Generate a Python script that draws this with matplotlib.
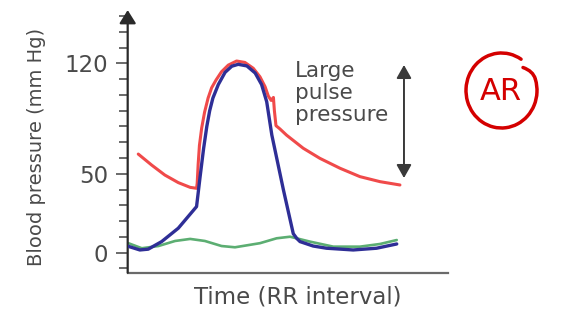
import matplotlib
matplotlib.use("Agg")
import matplotlib.pyplot as plt
from matplotlib.patches import Arc, PathPatch
from matplotlib.path import Path
from matplotlib.ticker import FixedLocator, MultipleLocator

plt.rcParams["font.family"] = ["DejaVu Sans"]

# Time axis: fraction of the RR interval (0 = start of the cycle)
aortic_t = [0.033, 0.075, 0.116, 0.158, 0.195, 0.215, 0.217, 0.220, 0.224, 0.231,
            0.240, 0.251, 0.262, 0.276, 0.293, 0.314, 0.340, 0.366, 0.392, 0.413,
            0.429, 0.439, 0.448, 0.455, 0.458, 0.463, 0.475, 0.496, 0.548, 0.600,
            0.663, 0.725, 0.788, 0.850]
aortic_p = [62.5, 55.5, 49.2, 44.4, 41.4, 40.8, 44.0, 56.0, 68.0, 79.0,
            89.0, 98.0, 104.5, 109.5, 114.7, 118.9, 121.5, 120.6, 116.9, 111.5,
            105.2, 99.3, 96.5, 98.4, 90.0, 80.5, 78.5, 74.5, 66.2, 59.8,
            53.5, 48.2, 45.0, 42.9]

lv_t = [0.002, 0.038, 0.064, 0.106, 0.158, 0.215, 0.226, 0.237, 0.247, 0.256,
        0.266, 0.283, 0.304, 0.325, 0.345, 0.372, 0.398, 0.418, 0.434, 0.450,
        0.486, 0.517, 0.528, 0.538, 0.579, 0.621, 0.704, 0.777, 0.840]
lv_p = [4.0, 1.7, 2.2, 7.0, 15.5, 29.2, 48.0, 66.0, 80.0, 90.0,
        98.0, 106.6, 114.3, 118.2, 119.4, 118.4, 113.9, 106.6, 95.7, 74.6,
        40.0, 12.0, 9.0, 7.0, 4.2, 2.8, 1.7, 2.8, 5.5]

la_t = [0.002, 0.044, 0.096, 0.148, 0.195, 0.241, 0.293, 0.335, 0.413, 0.465,
        0.507, 0.569, 0.642, 0.725, 0.788, 0.840]
la_p = [6.0, 2.8, 4.2, 7.4, 8.7, 7.4, 4.2, 3.4, 6.0, 9.1,
        10.1, 7.0, 3.8, 3.8, 5.5, 8.0]

labeled_ticks = [0, 50, 120]
pulse_top, pulse_bottom = 119, 47.3
pulse_arrow_t = 0.8626

axis_grey = "#6a6a6a"
text_grey = "#4a4a4a"

fig = plt.figure(figsize=(5.64, 3.25), dpi=100)
ax = fig.add_axes([0.2264, 0.161, 0.5679, 0.808])
ax.set_xlim(0, 1)
ax.set_ylim(-12.7, 153.8)

ax.plot(la_t, la_p, color="#5cae72", lw=1.9, solid_joinstyle="round",
        solid_capstyle="round", zorder=2)
ax.plot(aortic_t, aortic_p, color="#f04a4a", lw=2.2, solid_joinstyle="round",
        solid_capstyle="round", zorder=3)
ax.plot(lv_t, lv_p, color="#2e2e96", lw=2.4, solid_joinstyle="round",
        solid_capstyle="round", zorder=4)

# axes: bottom spine plus an arrow-headed vertical axis
for side in ("top", "right", "left"):
    ax.spines[side].set_visible(False)
ax.spines["bottom"].set_color(axis_grey)
ax.spines["bottom"].set_linewidth(1.6)
ax.annotate("", xy=(0, 1), xycoords="axes fraction", xytext=(0, 0),
            textcoords="axes fraction",
            arrowprops=dict(arrowstyle="-|>,head_length=0.8,head_width=0.5",
                            mutation_scale=10, color="#2a2a2a", lw=1.6,
                            shrinkA=0, shrinkB=0), annotation_clip=False)

ax.set_xticks([])
ax.yaxis.set_major_locator(FixedLocator(labeled_ticks))
ax.yaxis.set_minor_locator(MultipleLocator(10))
ax.tick_params(axis="y", which="major", length=8.6, width=1.4, color=axis_grey,
               labelsize=16.5, labelcolor=text_grey, pad=5.5)
ax.tick_params(axis="y", which="minor", length=6.5, width=1.4, color=axis_grey)

ax.set_ylabel("Blood pressure (mm Hg)", fontsize=14, color=text_grey, va="center")
ax.yaxis.set_label_coords(-0.286, 0.48)
ax.set_xlabel("Time (RR interval)", fontsize=16.5, color=text_grey, va="center")
ax.xaxis.set_label_coords(0.532, -0.0925)

# pulse pressure span
ax.annotate("", xy=(pulse_arrow_t, pulse_top), xytext=(pulse_arrow_t, pulse_bottom),
            arrowprops=dict(arrowstyle="<|-|>,head_length=0.8,head_width=0.45",
                            mutation_scale=10, color="#3a3a3a", lw=1.4,
                            shrinkA=0, shrinkB=0))
ax.text(0.522, 121.5, "Large\npulse\npressure", fontsize=15.5, color=text_grey,
        ha="left", va="top", linespacing=1.13)

# handwritten "AR" note
note_red = "#d40000"
fig.text(501 / 564, 1 - 92 / 325, "AR", color=note_red, fontsize=22,
         ha="center", va="center")
inch = fig.dpi_scale_trans
fig.add_artist(Arc((5.015, 2.345), 0.71, 0.75, theta1=58, theta2=378,
                   transform=inch, color=note_red, lw=2.5, capstyle="round"))
hook = Path([(5.353, 2.461), (5.33, 2.54), (5.23, 2.575)],
            [Path.MOVETO, Path.CURVE3, Path.CURVE3])
fig.add_artist(PathPatch(hook, transform=inch, fill=False, edgecolor=note_red,
                         lw=2.5, capstyle="round"))

fig.savefig("out.png", dpi=100, facecolor="white")
